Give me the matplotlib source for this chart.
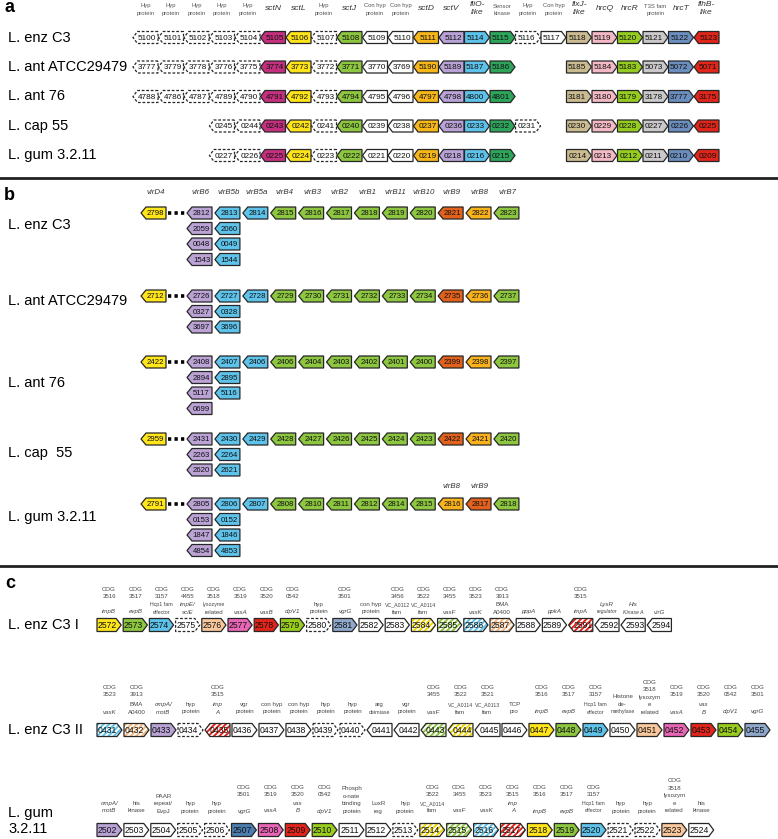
import matplotlib
matplotlib.use("Agg")
import matplotlib.pyplot as plt
from matplotlib.patches import Polygon

plt.rcParams['font.family'] = ['Liberation Sans', 'DejaVu Sans']
plt.rcParams['hatch.linewidth'] = 1.4

# ---------------- panel a : T3SS clusters ----------------
a_rows = ["L. enz C3", "L. ant ATCC29479", "L. ant 76", "L. cap 55", "L. gum 3.2.11"]
a_heads = ["Hyp\nprotein", "Hyp\nprotein", "Hyp\nprotein", "Hyp\nprotein", "Hyp\nprotein",
           "sctN", "sctL", "Hyp\nprotein", "sctJ", "Con hyp\nprotein", "Con hyp\nprotein",
           "sctD", "sctV", "fliO-\nlike", "Sensor\nkinase", "Hyp\nprotein", "Con hyp\nprotein",
           "fixJ-\nlike", "hrcQ", "hrcR", "T3S fam\nprotein", "hrcT", "flhB-\nlike"]
a_types = ["hyp", "hyp", "hyp", "hyp", "hyp", "sctN", "sctL", "hyp", "sctJ", "con", "con",
           "sctD", "sctV", "fliO", "sensor", "hyp", "con", "fixJ", "hrcQ", "hrcR", "T3S", "hrcT", "flhB"]
a_dirs = "LLLLLLLLLLLLLRRRRRRRRRL"
a_ids = [
    ["5100", "5101", "5102", "5103", "5104", "5105", "5106", "5107", "5108", "5109", "5110", "5111",
     "5112", "5114", "5115", "5116", "5117", "5118", "5119", "5120", "5121", "5122", "5123"],
    ["3777", "3779", "3778", "3776", "3775", "3774", "3773", "3772", "3771", "3770", "3769", "5190",
     "5189", "5187", "5186", None, None, "5185", "5184", "5183", "5073", "5072", "5071"],
    ["4788", "4786", "4787", "4789", "4790", "4791", "4792", "4793", "4794", "4795", "4796", "4797",
     "4798", "4800", "4801", None, None, "3181", "3180", "3179", "3178", "3777", "3175"],
    [None, None, None, "0245", "0244", "0243", "0242", "0241", "0240", "0239", "0238", "0237",
     "0236", "0233", "0232", "0231", None, "0230", "0229", "0228", "0227", "0226", "0225"],
    [None, None, None, "0227", "0226", "0225", "0224", "0223", "0222", "0221", "0220", "0219",
     "0218", "0216", "0215", None, None, "0214", "0213", "0212", "0211", "0210", "0209"],
]
a_colors = {"hyp": "white", "con": "white", "sctN": "#C4307E", "sctL": "#FFE41A", "sctJ": "#8DC63F",
            "sctD": "#F7B718", "sctV": "#B9A2D6", "fliO": "#5DC3EA", "sensor": "#2DA55B",
            "fixJ": "#CBBB91", "hrcQ": "#F3B9C4", "hrcR": "#95CC1F", "T3S": "#C9C9C9",
            "hrcT": "#6C8EBF", "flhB": "#E1251B"}

# ---------------- panel b : T4SS clusters ----------------
b_rows = ["L. enz C3", "L. ant ATCC29479", "L. ant 76", "L. cap  55", "L. gum 3.2.11"]
b_heads = ["virD4", "virB6", "virB5b", "virB5a", "virB4", "virB3", "virB2", "virB1",
           "virB11", "virB10", "virB9", "virB8", "virB7"]
b_first = ["2798", "2712", "2422", "2959", "2791"]
b_main = [
    ["2812", "2813", "2814", "2815", "2816", "2817", "2818", "2819", "2820", "2821", "2822", "2823"],
    ["2726", "2727", "2728", "2729", "2730", "2731", "2732", "2733", "2734", "2735", "2736", "2737"],
    ["2408", "2407", "2406", "2406", "2404", "2403", "2402", "2401", "2400", "2399", "2398", "2397"],
    ["2431", "2430", "2429", "2428", "2427", "2426", "2425", "2424", "2423", "2422", "2421", "2420"],
    ["2805", "2806", "2807", "2808", "2810", "2811", "2812", "2814", "2815", "2816", "2817", "2818"],
]
b_main_colors = ["UBBGGGGGGOAG", "UBBGGGGGGOAG", "UBBGGGGGGOAG", "UBBGGGGGGOAG", "UBBGGGGGGAOG"]
b_extra = [
    [("2059", "2060"), ("0048", "0049"), ("1543", "1544")],
    [("0327", "0328"), ("3697", "3696")],
    [("2894", "2895"), ("5117", "5116"), ("0699", None)],
    [("2263", "2264"), ("2620", "2621")],
    [("0153", "0152"), ("1847", "1846"), ("4854", "4853")],
]
b_extra_heads = {4: {9: "virB8", 10: "virB9"}}
b_colors = {"U": "#BBA3D6", "B": "#5DC3EA", "G": "#8DC63F", "O": "#E2621B", "A": "#F9B21B",
            "Y": "#FFE51A"}

# ---------------- panel c : T6SS clusters ----------------
c_rows = ["L. enz C3 I", "L. enz C3 II", "L. gum\n3.2.11"]
c_ids = [
    ["2572", "2573", "2574", "2575", "2576", "2577", "2578", "2579", "2580", "2581", "2582",
     "2583", "2584", "2585", "2586", "2587", "2588", "2589", "2591", "2592", "2593", "2594"],
    ["0431", "0432", "0433", "0434", "0435", "0436", "0437", "0438", "0439", "0440", "0441",
     "0442", "0443", "0444", "0445", "0446", "0447", "0448", "0449", "0450", "0451", "0452",
     "0453", "0454", "0455"],
    ["2502", "2503", "2504", "2505", "2506", "2507", "2508", "2509", "2510", "2511", "2512",
     "2513", "2514", "2515", "2516", "2517", "2518", "2519", "2520", "2521", "2522", "2523", "2524"],
]
c_kinds = ["YGBdPKRLdSWWygbpWWrWWW",
           "bpUdrWWWddWWgyWWYGBWPKRLS",
           "UWWddDKRLWWdygbrYGBddPW"]
c_dirs = ["RRRRRRRRRRRRRRRRRRLLLL",
          "RRRRLRRRRRLLLLLRRRRRRRRRR",
          "RRRRRRRRRRRRRRRRRRRRRRR"]
c_heads = [
    [("3516", "impB"), ("3517", "evpB"), ("3157", "Hcp1 fam\neffector"), ("4455", "impE/\nsciE"),
     ("3518", "lysozyme\nrelated"), ("3519", "vasA"), ("3520", "vasB"), ("0542", "clpV1"),
     (None, "hyp\nprotein"), ("3501", "vgrG"), (None, "con hyp\nprotein"), ("3456", "VC_A0112\nfam"),
     ("3522", "VC_A0114\nfam"), ("3455", "vasF"), ("3523", "vasK"), ("3913", "BMA\nA0400"),
     (None, "pppA"), (None, "ppkA"), ("3515", "impA"), (None, "LysR\nregulator"),
     (None, "His\nKinase A"), (None, "virG")],
    [("3523", "vasK"), ("3913", "BMA\nA0400"), (None, "ompA/\nmotB"), (None, "hyp\nprotein"),
     ("3515", "imp\nA"), (None, "vgr\nprotein"), (None, "con hyp\nprotein"), (None, "con hyp\nprotein"),
     (None, "hyp\nprotein"), (None, "hyp\nprotein"), (None, "arg\ndeimiase"), (None, "vgr\nprotein"),
     ("3455", "vasF"), ("3522", "VC_A0114\nfam"), ("3521", "VC_A0113\nfam"), (None, "TCP\npro"),
     ("3516", "impB"), ("3517", "evpB"), ("3157", "Hcp1 fam\neffector"),
     (None, "Histone\nde-\nmethylase"), ("3518", "lysozym\ne\nrelated"), ("3519", "vasA"),
     ("3520", "vas\nB"), ("0542", "clpV1"), ("3501", "vgrG")],
    [(None, "ompA/\nmotB"), (None, "his\nkinase"), (None, "PAAR\nrepeat/\nEvpJ"), (None, "hyp\nprotein"),
     (None, "hyp\nprotein"), ("3501", "vgrG"), ("3519", "vasA"), ("3520", "vas\nB"), ("0542", "clpV1"),
     (None, "Phosph\no-nate\nbinding\nprotein"), (None, "LuxR\nreg"), (None, "hyp\nprotein"),
     ("3522", "VC_A0114\nfam"), ("3455", "vasF"), ("3523", "vasK"), ("3515", "imp\nA"),
     ("3516", "impB"), ("3517", "evpB"), ("3157", "Hcp1 fam\neffector"), (None, "hyp\nprotein"),
     (None, "hyp\nprotein"), ("3518", "lysozym\ne\nrelated"), (None, "his\nkinase")],
]
c_italic = {"impB", "evpB", "impE/\nsciE", "vasA", "vasB", "clpV1", "vgrG", "vasF", "vasK", "pppA",
            "ppkA", "impA", "LysR\nregulator", "His\nKinase A", "virG", "ompA/\nmotB", "imp\nA",
            "vas\nB"}
c_colors = {"Y": "#FFE51A", "G": "#8DC63F", "B": "#5DC3EA", "P": "#F8C79B", "K": "#E866B5",
            "R": "#E3241B", "L": "#98CC1D", "S": "#8FA9CC", "D": "#4C7DB0", "U": "#B9A2D6",
            "W": "white", "d": "white",
            "y": "#F2D600", "g": "#8DC63F", "b": "#5DC3EA", "p": "#F5B77E", "r": "#E3241B"}


def arrow_pts(x, y, w, h, d, tip):
    top, bot = y - h / 2, y + h / 2
    if d == "R":
        return [(x, top), (x + w - tip, top), (x + w, y), (x + w - tip, bot), (x, bot)]
    if d == "L":
        return [(x + w, top), (x + tip, top), (x, y), (x + tip, bot), (x + w, bot)]
    return [(x, top), (x + w, top), (x + w, bot), (x, bot)]


def draw_gene(ax, x, y, w, h, d, face, label, fs, dashed=False, hatch=None, tip=5):
    pts = arrow_pts(x, y, w, h, d, tip)
    if hatch is not None:
        ax.add_patch(Polygon(pts, closed=True, facecolor="white", edgecolor=hatch,
                             hatch="//////", lw=0))
        face = "none"
    ax.add_patch(Polygon(pts, closed=True, facecolor=face, edgecolor="#262626", lw=0.9,
                         ls=(0, (2.2, 1.4)) if dashed else "-"))
    shift = {"R": -tip / 2 + 0.5, "L": tip / 2 - 0.5}.get(d, 0)
    ax.text(x + w / 2 + shift, y + 0.6, label, ha="center", va="center",
            fontsize=fs, color="#111111")


def stack(ax, cx, bottom, text, fs, italic=False, color="#444444", sp=7.5):
    lines = text.split("\n")
    n = len(lines)
    for k, line in enumerate(lines):
        size = fs * 0.87 if len(line) >= 8 else fs
        ax.text(cx, bottom - (n - 1 - k) * sp, line, ha="center", va="center", fontsize=size,
                style="italic" if italic else "normal", color=color)
    return bottom - (n - 1) * sp


fig = plt.figure(figsize=(7.78, 8.39), dpi=100)
ax = fig.add_axes([0, 0, 1, 1])
ax.set_xlim(0, 778)
ax.set_ylim(839, 0)
ax.axis("off")

# ---- panel a
ax.text(5, 8, "a", fontsize=13, fontweight="bold", va="center", ha="left")
a_x0, a_step, a_w, a_h = 133, 25.5, 25, 12
for j, head in enumerate(a_heads):
    cx = a_x0 + a_step * j + a_w / 2
    italic = a_types[j] not in ("hyp", "con", "sensor", "T3S")
    if italic:
        stack(ax, cx, 13 if "\n" in head else 9, head, 6, italic=True, color="#333333", sp=8.5)
    else:
        stack(ax, cx, 13.5, head, 4.2, color="#555555", sp=7.5)
for i, name in enumerate(a_rows):
    y = 37.5 + 29.5 * i
    ax.text(8, y, name, fontsize=10.5, va="center", ha="left")
    for j, gid in enumerate(a_ids[i]):
        if gid is None:
            continue
        t = a_types[j]
        draw_gene(ax, a_x0 + a_step * j, y, a_w, a_h, a_dirs[j], a_colors[t], gid, 5.9,
                  dashed=(t == "hyp"), tip=4.5)

ax.plot([0, 778], [178, 178], color="#222222", lw=2)

# ---- panel b
ax.text(4, 195, "b", fontsize=13, fontweight="bold", va="center", ha="left")
b_fx, b_x0, b_step, b_w, b_h = 141, 187, 27.9, 25, 12
b_y = [213, 296, 362, 439, 504]
b_ly = [225, 301, 383, 453, 517]
ax.text(b_fx + b_w / 2 + 2, 193, b_heads[0], fontsize=5.7, style="italic", ha="center",
        va="center", color="#333333")
for j, head in enumerate(b_heads[1:]):
    ax.text(b_x0 + b_step * j + b_w / 2 + 1, 193, head, fontsize=5.7, style="italic",
            ha="center", va="center", color="#333333")
for i, name in enumerate(b_rows):
    y = b_y[i]
    ax.text(8, b_ly[i], name, fontsize=10.5, va="center", ha="left")
    draw_gene(ax, b_fx, y, b_w, b_h, "L", b_colors["Y"], b_first[i], 5.6)
    ax.plot([b_fx + b_w + 2, b_x0 - 1], [y, y], color="black", lw=2.6, ls=(0, (0.9, 0.9)))
    for j, gid in enumerate(b_main[i]):
        draw_gene(ax, b_x0 + b_step * j, y, b_w, b_h, "L", b_colors[b_main_colors[i][j]], gid, 5.6)
    for k, (pu, bl) in enumerate(b_extra[i]):
        yy = y + 15.5 * (k + 1)
        draw_gene(ax, b_x0, yy, b_w, b_h, "L", b_colors["U"], pu, 5.6)
        if bl is not None:
            draw_gene(ax, b_x0 + b_step, yy, b_w, b_h, "L", b_colors["B"], bl, 5.6)
    for j, head in b_extra_heads.get(i, {}).items():
        ax.text(b_x0 + b_step * j + b_w / 2 + 1, y - 17, head, fontsize=5.7, style="italic",
                ha="center", va="center", color="#333333")

ax.plot([0, 778], [566, 566], color="#222222", lw=2)

# ---- panel c
ax.text(5, 583, "c", fontsize=13, fontweight="bold", va="center", ha="left")
c_y = [625, 730, 830]
c_step = [26.2, 27.0, 26.9]
c_name_bottom = [612, 712, 811]
c_cog_bottom = [597, 695, 795]
c_label_y = [625, 730, 821]
for i, name in enumerate(c_rows):
    y = c_y[i]
    ax.text(8, c_label_y[i], name, fontsize=10.5, va="center", ha="left", linespacing=1.25)
    w = c_step[i] - 2
    for j, gid in enumerate(c_ids[i]):
        x = 97 + c_step[i] * j
        k = c_kinds[i][j]
        cx = x + w / 2
        if k in "ygbpr":
            draw_gene(ax, x, y, w, 13, c_dirs[i][j], "white", gid, 6.2, hatch=c_colors[k])
        else:
            draw_gene(ax, x, y, w, 13, c_dirs[i][j], c_colors[k], gid, 6.2, dashed=(k == "d"))
        cog, head = c_heads[i][j]
        top = stack(ax, cx, c_name_bottom[i], head, 4.4, italic=head in c_italic)
        if cog is not None:
            stack(ax, cx, min(c_cog_bottom[i], top - 7.5), "COG\n" + cog, 4.4)

fig.savefig("out.png", dpi=100)
